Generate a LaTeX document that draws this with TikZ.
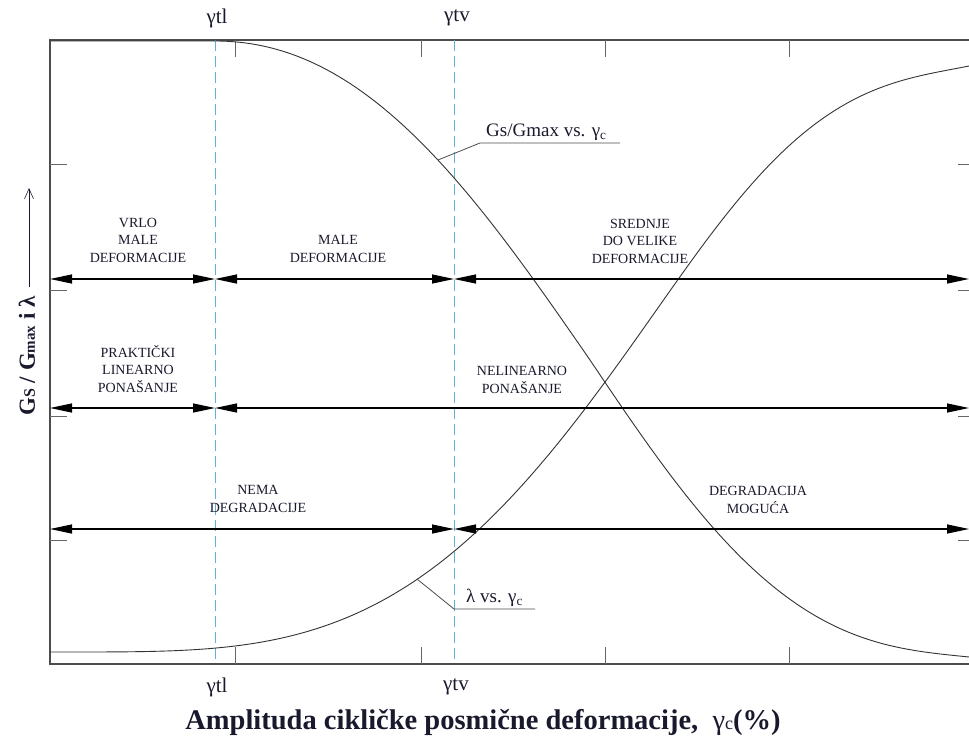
\documentclass[tikz,border=0pt]{standalone}
\usepackage{fontspec}
\setmainfont{Liberation Serif}
\usetikzlibrary{arrows.meta}
\definecolor{guidec}{RGB}{95,178,212}
\definecolor{txt}{RGB}{25,25,45}
\begin{document}
\begin{tikzpicture}[x=1pt,y=-1pt,
  declare function={
    Gl(\t)=41+319*(0.9*\t*\t+0.5*\t*\t*\t-0.4*\t*\t*\t*\t);
    Gr(\t)=360+297*(1.9*\t-1.83*\t*\t*\t+0.93*\t*\t*\t*\t);
    Ll(\t)=652-347*(2.5*\t*\t*\t*\t-1.5*\t*\t*\t*\t*\t);
    Lr(\t)=305-239*(1.836*\t-1.767*\t*\t*\t+0.931*\t*\t*\t*\t);
  },
  frame/.style={draw=black!70, line width=1.1pt},
  tickm/.style={draw=black!60, line width=0.8pt},
  guide/.style={draw=guidec, line width=1pt, dash pattern=on 11pt off 5pt},
  curve/.style={draw=black!80, line width=0.9pt, line join=round},
  dim/.style={draw=black, line width=1.2pt, {Triangle[length=22pt,width=9pt]}-{Triangle[length=22pt,width=9pt]}},
  lbl/.style={font=\fontsize{14}{17.5}\selectfont, align=center, text=txt, inner sep=0pt},
  gam/.style={font=\fontsize{21}{21}\selectfont, text=txt, inner sep=0pt},
  leader/.style={draw=black!70, line width=0.8pt},
  curvelbl/.style={font=\fontsize{19}{19}\selectfont, text=txt, inner sep=1pt, anchor=south west}]
\useasboundingbox (0,0) rectangle (969,744);

% frame
\coordinate (tl) at (50,40);
\coordinate (tr) at (969,40);
\coordinate (bl) at (50,664);
\coordinate (br) at (969,664);
\draw[frame] (tr) -- (tl) -- (bl) -- (br);

% ticks
\foreach \x in {235,421,605,789}{
  \draw[tickm] (\x,40) -- (\x,57);
  \draw[tickm] (\x,664) -- (\x,647);
}
\foreach \y in {164,290,416,540}{
  \draw[tickm] (50,\y) -- (67,\y);
  \draw[tickm] (969,\y) -- (958,\y);
}

% threshold guides
\coordinate (gtlT) at (215.5,40);
\coordinate (gtlB) at (215.5,664);
\coordinate (gtvT) at (454.5,40);
\coordinate (gtvB) at (454.5,664);
\draw[guide] (gtlT) -- (gtlB);
\draw[guide] (gtvT) -- (gtvB);

% curves
\draw[curve] (50,41) -- (215,41)
  -- plot[domain=215:590, samples=80, variable=\xx] (\xx,{Gl((\xx-215)/375)})
  -- plot[domain=590:969, samples=80, variable=\xx] (\xx,{Gr((\xx-590)/379)});
\draw[curve] plot[domain=50:660, samples=120, variable=\xx] (\xx,{Ll((\xx-50)/610)})
  -- plot[domain=660:969, samples=70, variable=\xx] (\xx,{Lr((\xx-660)/309)});

% leaders
\coordinate (gA) at (438,160);
\coordinate (gB) at (480,143);
\coordinate (gC) at (620,143);
\draw[leader] (gA) -- (gB) -- (gC);
\node[curvelbl] (glbl) at (485,142) {Gs/Gmax vs. γ\textsubscript{c}};
\coordinate (lA) at (417,579);
\coordinate (lB) at (454,609);
\coordinate (lC) at (535,609);
\draw[leader] (lA) -- (lB) -- (lC);
\node[curvelbl] (llbl) at (465,608) {λ vs. γ\textsubscript{c}};

% dimension arrows
\coordinate (r1a) at (50,279);
\coordinate (r1b) at (215,279);
\coordinate (r1c) at (454,279);
\coordinate (r1d) at (969,279);
\draw[dim] (r1a) -- (r1b);
\draw[dim] (r1b) -- (r1c);
\draw[dim] (r1c) -- (r1d);
\coordinate (r2a) at (50,408);
\coordinate (r2b) at (215,408);
\coordinate (r2d) at (969,408);
\draw[dim] (r2a) -- (r2b);
\draw[dim] (r2b) -- (r2d);
\coordinate (r3a) at (50,529);
\coordinate (r3c) at (454,529);
\coordinate (r3d) at (969,529);
\draw[dim] (r3a) -- (r3c);
\draw[dim] (r3c) -- (r3d);

% region labels
\node[lbl] (vrlo) at (138,240) {VRLO\\MALE\\DEFORMACIJE};
\node[lbl] (male) at (338,249) {MALE\\DEFORMACIJE};
\node[lbl] (sred) at (640,241) {SREDNJE\\DO VELIKE\\DEFORMACIJE};
\node[lbl] (prak) at (138,369) {PRAKTIČKI\\LINEARNO\\PONAŠANJE};
\node[lbl] (neli) at (522,380) {NELINEARNO\\PONAŠANJE};
\node[lbl] (nema) at (258,499) {NEMA\\DEGRADACIJE};
\node[lbl] (degr) at (758,500) {DEGRADACIJA\\MOGUĆA};

% threshold labels
\node[gam] (gtlt) at (217,18) {γtl};
\node[gam] (gtvt) at (457,18) {γtv};
\node[gam] (gtlb) at (217,687) {γtl};
\node[gam] (gtvb) at (456,687) {γtv};

% axis titles
\node[text=txt, inner sep=0pt] (xt) at (483,722) {\fontsize{28.5}{28.5}\selectfont\bfseries Amplituda cikličke posmične deformacije,\ \ {\mdseries γ{\fontsize{18}{18}\selectfont c}}(\%)};
\node[text=txt, inner sep=0pt, rotate=90] (yt) at (27,356) {\fontsize{23}{23}\selectfont\bfseries G{\fontsize{16}{16}\selectfont S} / G{\fontsize{15}{15}\selectfont max} i λ};
\coordinate (ya) at (29,287);
\coordinate (yb) at (29,188);
\draw[-{Straight Barb[length=10pt,width=9pt]}, line width=0.6pt, draw=txt] (ya) -- (yb);
\end{tikzpicture}
\end{document}
